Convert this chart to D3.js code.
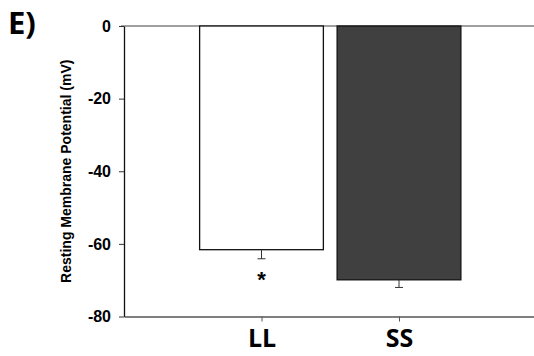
<!DOCTYPE html>
<html>
<head>
<meta charset="utf-8">
<script src="https://cdn.jsdelivr.net/npm/d3@7"></script>
<style>
  html, body { margin: 0; padding: 0; background: #fff; }
  svg { display: block; }
</style>
</head>
<body>
<script>
// Resting membrane potential per group, with SEM
const categories = ["LL", "SS"];
const means = [-61.6, -69.9];
const errors = [2.5, 2.1];
const barColors = ["#ffffff", "#404040"];
const significance = ["*", ""];
const yTicks = [0, -20, -40, -60, -80];

const W = 534, H = 356;
const svg = d3.select("body").append("svg").attr("width", W).attr("height", H);

const axisX = 124;
const y = d3.scaleLinear().domain([0, -80]).range([26, 316.5]);
const x = d3.scaleLinear().domain([0, 3]).range([axisX, axisX + 412.5]);
const step = x(1) - x(0);
const barW = step * 0.9;

const boldArial = sel => sel
  .attr("font-family", "'Liberation Sans', Arial, sans-serif")
  .attr("font-weight", 700)
  .style("font-family", "'Liberation Sans', Arial, sans-serif")
  .style("font-weight", 700);

// panel letter
svg.append("text").attr("x", 8).attr("y", 34)
  .style("font-family", "'Open Sans', sans-serif").style("font-weight", 700)
  .style("font-size", "31px").text("E)");

// top frame line
svg.append("line").attr("x1", axisX - 3).attr("x2", W).attr("y1", y(0)).attr("y2", y(0))
  .attr("stroke", "#808080").attr("stroke-width", 1.3);

// bars
const idx = d3.range(categories.length);
svg.selectAll("rect.bar").data(idx).join("rect").attr("class", "bar")
  .attr("x", i => x(i + 1) - barW / 2)
  .attr("y", y(0))
  .attr("width", barW)
  .attr("height", i => y(means[i]) - y(0))
  .attr("fill", i => barColors[i])
  .attr("stroke", "#111").attr("stroke-width", 1.3);

// error bars (downward only)
const eg = svg.selectAll("g.err").data(idx).join("g").attr("class", "err");
eg.append("line")
  .attr("x1", i => x(i + 1)).attr("x2", i => x(i + 1))
  .attr("y1", i => y(means[i])).attr("y2", i => y(means[i] - errors[i]))
  .attr("stroke", "#333").attr("stroke-width", 1);
eg.append("line")
  .attr("x1", i => x(i + 1) - 4).attr("x2", i => x(i + 1) + 4)
  .attr("y1", i => y(means[i] - errors[i])).attr("y2", i => y(means[i] - errors[i]))
  .attr("stroke", "#333").attr("stroke-width", 1);

// significance marks
svg.selectAll("text.sig").data(idx).join("text").attr("class", "sig")
  .attr("x", i => x(i + 1)).attr("y", i => y(means[i] - errors[i]) + 28)
  .attr("text-anchor", "middle")
  .call(boldArial)
  .style("font-size", "22px").text(i => significance[i]);

// y axis
const yAxis = svg.append("g").attr("transform", `translate(${axisX},0)`)
  .call(d3.axisLeft(y).tickValues(yTicks).tickFormat(d => String(d))
    .tickSize(5).tickSizeOuter(0).tickPadding(8));
yAxis.select(".domain").attr("stroke", "#111").attr("stroke-width", 1.3);
yAxis.selectAll(".tick line").attr("stroke", "#333");
yAxis.selectAll("text").call(boldArial)
  .style("font-size", "16px").attr("fill", "#000");

// x axis
const xAxis = svg.append("g").attr("transform", `translate(0,${y(-80)})`)
  .call(d3.axisBottom(x).tickValues([1, 2]).tickFormat(d => categories[d - 1])
    .tickSize(5).tickSizeOuter(0).tickPadding(8));
xAxis.select(".domain").attr("stroke", "#555").attr("stroke-width", 1.3);
xAxis.selectAll(".tick line").attr("stroke", "#555");
xAxis.selectAll("text")
  .style("font-family", "'Open Sans', sans-serif").style("font-weight", 700)
  .style("font-size", "25px").attr("fill", "#000");

// y axis title
svg.append("text")
  .attr("transform", `translate(71,${(y(0) + y(-80)) / 2}) rotate(-90)`)
  .attr("text-anchor", "middle")
  .call(boldArial)
  .style("font-size", "14px").text("Resting Membrane Potential (mV)");
</script>
</body>
</html>
